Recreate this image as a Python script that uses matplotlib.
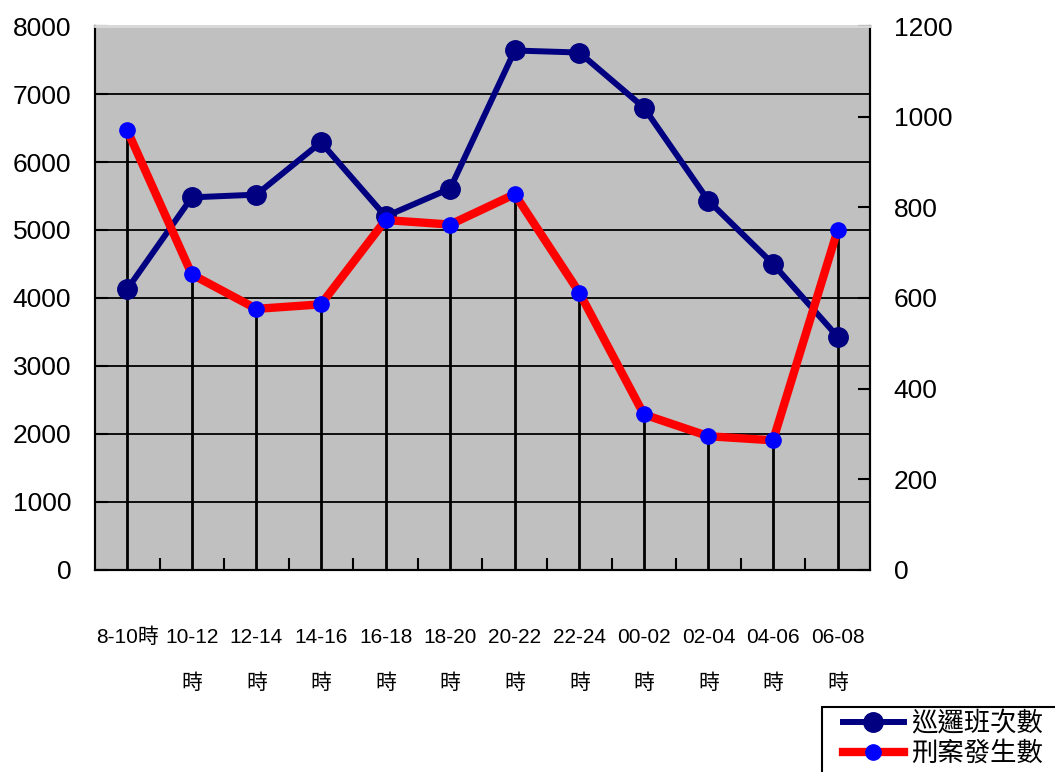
import numpy as np
import matplotlib.pyplot as plt
from matplotlib.lines import Line2D
from matplotlib.patches import Rectangle

plt.rcParams['font.family'] = ['Liberation Sans', 'Noto Sans CJK TC', 'DejaVu Sans']

# time slots and two series
slots = ['8-10時', '10-12', '12-14', '14-16', '16-18', '18-20',
         '20-22', '22-24', '00-02', '02-04', '04-06', '06-08']
patrols = [4130, 5480, 5520, 6290, 5200, 5610, 7640, 7610, 6800, 5430, 4500, 3430]
crimes = [970, 652, 576, 586, 772, 762, 829, 612, 343, 295, 286, 750]

x = np.arange(len(slots))

fig = plt.figure(figsize=(10.55, 7.72), dpi=100)
ax = fig.add_axes([0.090, 0.2617, 0.7346, 0.7046])
ax.set_facecolor('#c0c0c0')
ax.set_xlim(-0.5, len(slots) - 0.5)
ax.set_ylim(0, 8000)
ax.set_yticks(np.arange(0, 8001, 1000))
ax.grid(axis='y', color='black', lw=1.3, zorder=1)
ax.set_axisbelow(True)

# drop lines from the crime points (scaled into left axis units)
scale = 8000 / 1200
ax.vlines(x, 0, np.array(crimes) * scale, color='black', lw=2, zorder=2)

ax.plot(x, patrols, color='#000080', lw=4.3, marker='o', ms=14,
        mfc='#000080', mec='#000080', zorder=3)

ax2 = ax.twinx()
ax2.set_ylim(0, 1200)
ax2.set_yticks(np.arange(0, 1201, 200))
ax2.plot(x, crimes, color='red', lw=6, marker='o', ms=11,
         mfc='blue', mec='blue', zorder=4)

for a in (ax, ax2):
    for s in a.spines.values():
        s.set_color('black')
        s.set_linewidth(1.5)
    a.spines['top'].set_color('#d8d8d8')
    a.spines['top'].set_linewidth(2)

ax.tick_params(axis='y', direction='in', length=9, width=1.5, pad=17,
               labelsize=19)
ax2.tick_params(axis='y', direction='in', length=9, width=1.5, pad=17,
                labelsize=19)

# x ticks between categories, labels drawn as text
ax.set_xticks(x[:-1] + 0.5)
ax.set_xticklabels([])
ax.tick_params(axis='x', direction='in', length=9, width=1.5)

for i, lab in enumerate(slots):
    ax.text(i, -0.124, lab, transform=ax.get_xaxis_transform(),
            ha='center', va='center', fontsize=15)
    if i > 0:
        ax.text(i, -0.209, '時', transform=ax.get_xaxis_transform(),
                ha='center', va='center', fontsize=15)

handles = [
    Line2D([], [], color='#000080', lw=4.3, marker='o', ms=14, mfc='#000080', mec='#000080'),
    Line2D([], [], color='red', lw=6, marker='o', ms=11, mfc='blue', mec='blue'),
]
leg = fig.legend(handles, ['巡邏班次數', '刑案發生數'], loc='upper left',
                 bbox_to_anchor=(843 / 1055, 1 - 711 / 772), fontsize=19,
                 frameon=False, handlelength=2.3, borderpad=0,
                 labelspacing=0.2, handletextpad=0.3, borderaxespad=0)
# legend box runs past the figure edge
fig.patches.append(Rectangle((822 / 1055, -0.05), 0.3, 0.05 + 1 - 707 / 772,
                             transform=fig.transFigure, fill=False,
                             edgecolor='black', lw=1.5))

fig.savefig('out.png', dpi=100)
